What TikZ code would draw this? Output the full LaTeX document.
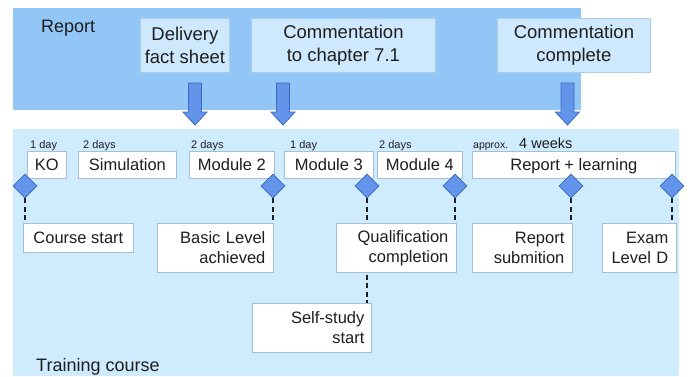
\documentclass[tikz,border=0pt]{standalone}
\usepackage{fontspec}
\setmainfont{Liberation Sans}
\usetikzlibrary{shapes.geometric}
\pgfdeclarelayer{bg}
\pgfdeclarelayer{lines}
\pgfsetlayers{bg,lines,main}

\definecolor{topband}{RGB}{146,198,247}
\definecolor{topbox}{RGB}{206,233,254}
\definecolor{topboxline}{RGB}{170,204,236}
\definecolor{lowband}{RGB}{206,236,254}
\definecolor{boxline}{RGB}{165,190,215}
\definecolor{bluefill}{RGB}{98,148,234}
\definecolor{blueline}{RGB}{62,104,196}
\definecolor{txt}{RGB}{30,30,30}

\begin{document}
\begin{tikzpicture}[x=1pt,y=-1pt,
  every node/.style={text=txt},
  topbx/.style={draw=topboxline, fill=topbox, line width=0.8pt, inner sep=0pt,
    anchor=north west, align=center, font=\fontsize{18.5}{23}\selectfont},
  lowbx/.style={draw=boxline, fill=white, line width=0.8pt, inner sep=0pt,
    anchor=north west, font=\fontsize{16.5}{20}\selectfont},
  onebx/.style={lowbx, text height=11.8pt, text depth=0pt},
  rbx/.style={lowbx, align=right, inner xsep=8pt},
  dur/.style={anchor=base west, inner sep=0pt, font=\fontsize{11}{13}\selectfont},
  bigtxt/.style={anchor=base west, inner sep=0pt, font=\fontsize{18}{21}\selectfont},
  ms/.style={draw=blueline, fill=bluefill, line width=0.8pt, shape=diamond,
    minimum size=24pt, inner sep=0pt},
  lead/.style={draw=txt, line width=1.3pt, dash pattern=on 5pt off 3.5pt},
  blk/.style={draw=blueline, fill=bluefill, line width=0.8pt, line join=miter}
]
\useasboundingbox (0,0) rectangle (688,376);

% bands
\begin{pgfonlayer}{bg}
  \fill[topband] (13,8) rectangle (581,110);
  \fill[lowband] (13,129) rectangle (679,376);
\end{pgfonlayer}

% report band
\node[bigtxt] (rep) at (41,32) {Report};
\node[topbx, minimum width=89pt, minimum height=54pt] (df) at (140,18) {Delivery\\fact sheet};
\node[topbx, minimum width=184pt, minimum height=54pt] (cc) at (251,18) {Commentation\\to chapter 7.1};
\node[topbx, minimum width=153pt, minimum height=54pt] (ccomp) at (497,18) {Commentation\\complete};

% block arrows
\foreach \c in {195,283,567.5} {
  \draw[blk] (\c-6.5,83) -- (\c+6.5,83) -- (\c+6.5,112) -- (\c+12,112)
    -- (\c,125) -- (\c-12,112) -- (\c-6.5,112) -- cycle;
}

% durations
\node[dur] (t1) at (30,148) {1 day};
\node[dur] (t2) at (83,148) {2 days};
\node[dur] (t3) at (191,148) {2 days};
\node[dur] (t4) at (290,148) {1 day};
\node[dur] (t5) at (379,148) {2 days};
\node[dur, font=\fontsize{10.5}{12}\selectfont] (t6) at (473,148) {approx.};
\node[dur, font=\fontsize{14.5}{16}\selectfont] (t7) at (519,148) {4 weeks};

% phase boxes
\node[onebx, minimum width=39pt, minimum height=27pt] (ko) at (27,151) {KO};
\node[onebx, minimum width=98pt, minimum height=27pt] (sim) at (78,151) {Simulation};
\node[onebx, minimum width=85pt, minimum height=27pt] (m2) at (189,151) {Module 2};
\node[onebx, minimum width=89pt, minimum height=27pt] (m3) at (284,151) {Module 3};
\node[onebx, minimum width=85pt, minimum height=27pt] (m4) at (377,151) {Module 4};
\node[onebx, minimum width=203pt, minimum height=27pt] (rl) at (472,151) {Report + learning};

% milestone boxes
\node[onebx, minimum width=110pt, minimum height=29pt] (cs) at (23,223) {Course start};
\node[rbx, text width=100pt, minimum height=49pt] (bl) at (157,223) {Basic Level\\achieved};
\node[rbx, text width=104pt, minimum height=49pt] (qc) at (336,223) {Qualification\\completion};
\node[rbx, text width=84pt, minimum height=49pt] (rs) at (472,223) {Report\\submition};
\node[rbx, text width=58pt, minimum height=49pt] (ex) at (602,223) {Exam\\Level D};
\node[rbx, text width=105pt, minimum height=49pt, inner xsep=7pt] (ss) at (252,303) {Self-study\\start};

% milestones
\node[ms] (d1) at (25,186) {};
\node[ms] (d2) at (273,186) {};
\node[ms] (d3) at (367,186) {};
\node[ms] (d4) at (455,186) {};
\node[ms] (d5) at (571,186) {};
\node[ms] (d6) at (672,186) {};

% leaders
\begin{pgfonlayer}{lines}
  \draw[lead] (d1.south) -- (d1 |- cs.north);
  \draw[lead] (d2.south) -- (d2 |- bl.north);
  \draw[lead] (d3.south) -- (d3 |- ss.north);
  \draw[lead] (d4.south) -- (d4 |- qc.north);
  \draw[lead] (d5.south) -- (d5 |- rs.north);
  \draw[lead] (d6.south) -- (d6 |- ex.north);
\end{pgfonlayer}

\node[bigtxt] (tc) at (36,371) {Training course};
\end{tikzpicture}
\end{document}
